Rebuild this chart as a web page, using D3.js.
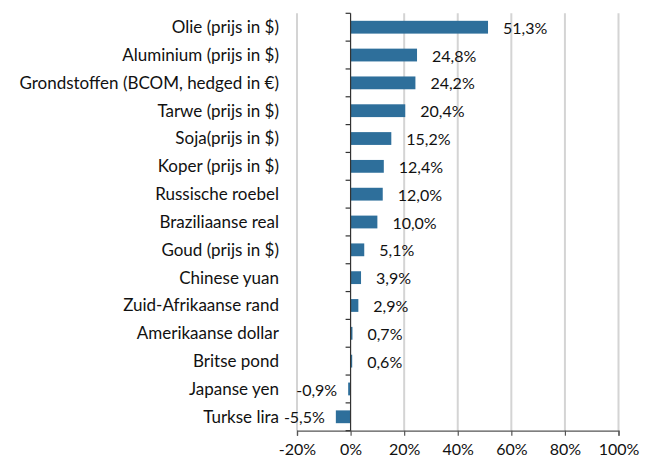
<!DOCTYPE html>
<html>
<head>
<meta charset="utf-8">
<script src="https://cdn.jsdelivr.net/npm/d3@7"></script>
<style>
  html, body { margin: 0; padding: 0; background: #fff; }
  svg { display: block; }
  text { font-family: Lato, "Open Sans", sans-serif; fill: #111; }
</style>
</head>
<body>
<svg id="chart" width="653" height="461"></svg>
<script>
// Categories, top to bottom
const categories = [
  "Olie (prijs in $)",
  "Aluminium (prijs in $)",
  "Grondstoffen (BCOM, hedged in €)",
  "Tarwe (prijs in $)",
  "Soja(prijs in $)",
  "Koper (prijs in $)",
  "Russische roebel",
  "Braziliaanse real",
  "Goud (prijs in $)",
  "Chinese yuan",
  "Zuid-Afrikaanse rand",
  "Amerikaanse dollar",
  "Britse pond",
  "Japanse yen",
  "Turkse lira"
];
// Change in percent
const values = [51.3, 24.8, 24.2, 20.4, 15.2, 12.4, 12.0, 10.0, 5.1, 3.9, 2.9, 0.7, 0.6, -0.9, -5.5];
// Horizontal axis ticks
const xTicks = [-20, 0, 20, 40, 60, 80, 100];

const fmt = v => v.toFixed(1).replace(".", ",") + "%";

const svg = d3.select("#chart");
const plotTop = 13.3, plotBottom = 430.7, plotLeft = 297, plotRight = 618.5;
const fontSize = 17;
const valueFontSize = 16;

const x = d3.scaleLinear().domain([-20, 100]).range([plotLeft, plotRight]);
const y = d3.scaleBand().domain(categories).range([plotTop, plotBottom])
  .paddingInner(0.54).paddingOuter(0.27);

// vertical gridlines
svg.append("g").selectAll("line")
  .data(xTicks.filter(t => t !== 0))
  .join("line")
  .attr("x1", d => x(d)).attr("x2", d => x(d))
  .attr("y1", plotTop).attr("y2", plotBottom)
  .attr("stroke", "#d4d4d4").attr("stroke-width", 2);

// bars
svg.append("g").selectAll("rect")
  .data(values)
  .join("rect")
  .attr("x", d => x(Math.min(0, d)))
  .attr("width", d => Math.abs(x(d) - x(0)))
  .attr("y", (d, i) => y(categories[i]))
  .attr("height", y.bandwidth())
  .attr("fill", "#2e6f9b");

// horizontal axis
const xAxis = svg.append("g").attr("transform", `translate(0,${plotBottom})`)
  .call(d3.axisBottom(x).tickValues(xTicks).tickSize(5).tickPadding(8)
    .tickFormat(d => d + "%"));
xAxis.select(".domain").attr("stroke", "#555").attr("stroke-width", 1.2);
xAxis.selectAll(".tick line").attr("stroke", "#555").attr("stroke-width", 1.2);
xAxis.selectAll(".tick text").attr("font-size", valueFontSize).attr("fill", "#111")
  .attr("font-family", "Lato, 'Open Sans', sans-serif");

// vertical axis at zero with boundary ticks
const step = y.step();
const bounds = d3.range(categories.length + 1).map(i => plotTop + i * step);
const yAxis = svg.append("g");
yAxis.append("line")
  .attr("x1", x(0)).attr("x2", x(0)).attr("y1", plotTop).attr("y2", plotBottom)
  .attr("stroke", "#333").attr("stroke-width", 1.2);
yAxis.selectAll(".bt").data(bounds).join("line").attr("class", "bt")
  .attr("x1", x(0) - 5).attr("x2", x(0))
  .attr("y1", d => d).attr("y2", d => d)
  .attr("stroke", "#333").attr("stroke-width", 1.2);

// category labels
svg.append("g").selectAll("text")
  .data(categories)
  .join("text")
  .attr("x", 279)
  .attr("y", d => y(d) + y.bandwidth() / 2)
  .attr("dy", "0.35em")
  .attr("text-anchor", "end")
  .attr("font-size", fontSize)
  .text(d => d);

// value labels
svg.append("g").selectAll("text")
  .data(values)
  .join("text")
  .attr("x", d => d >= 0 ? x(d) + 15 : x(d) - 11)
  .attr("y", (d, i) => y(categories[i]) + y.bandwidth() / 2 + 1)
  .attr("dy", "0.35em")
  .attr("text-anchor", d => d >= 0 ? "start" : "end")
  .attr("font-size", valueFontSize)
  .text(fmt);
</script>
</body>
</html>
